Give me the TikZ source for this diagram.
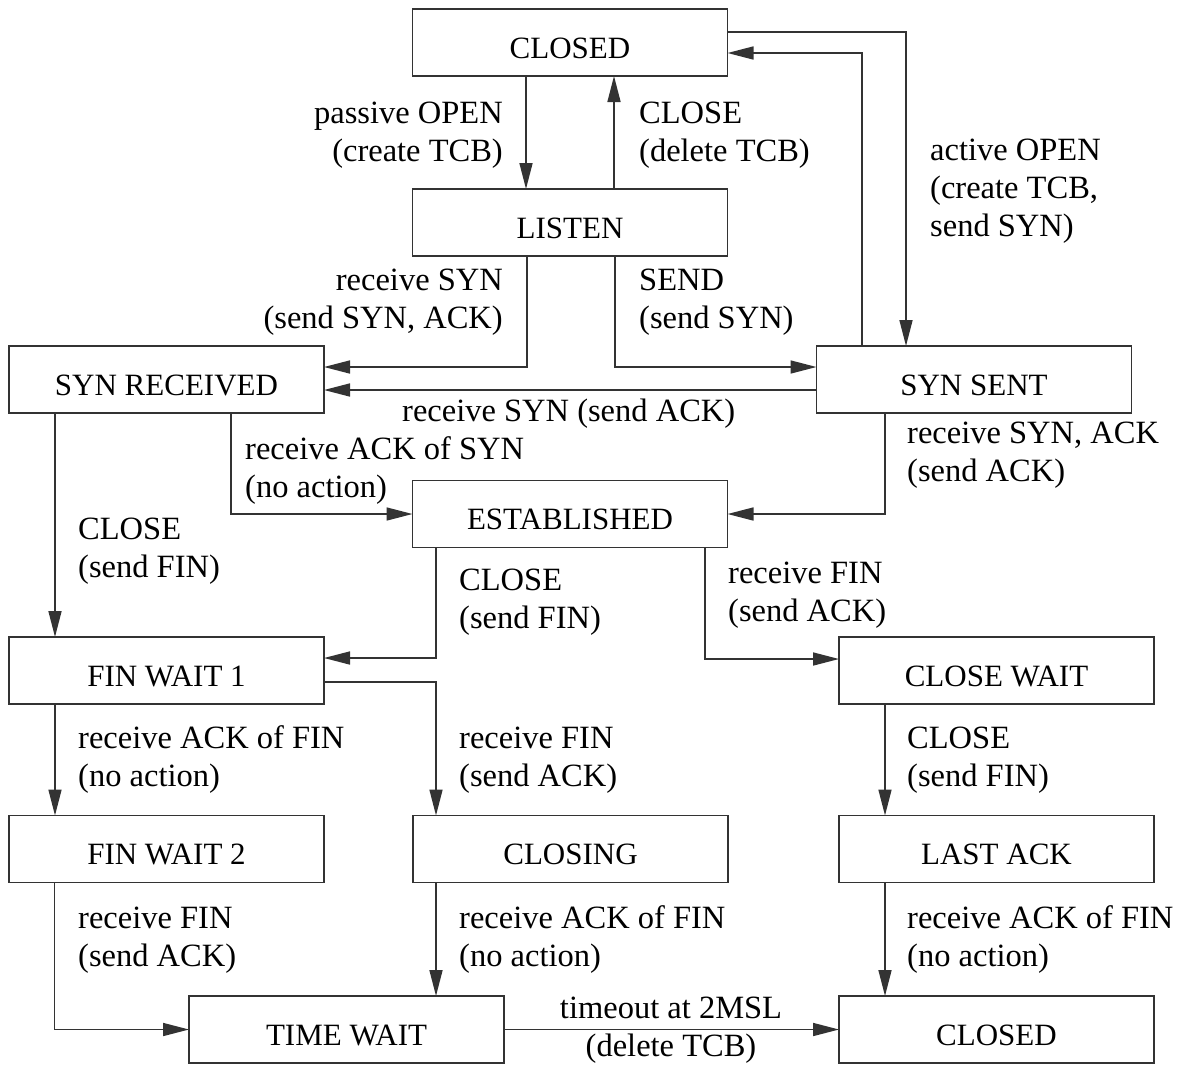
\documentclass[tikz,border=0pt]{standalone}
\usepackage{fontspec}
\setmainfont{Liberation Serif}
\usepackage{tikz}
\usetikzlibrary{positioning,arrows.meta}

\begin{document}
\begin{tikzpicture}[
  x=1pt, y=-1pt,
  st/.style={draw=black!80, line width=1.6pt, minimum width=315pt, minimum height=67pt,
    inner sep=0pt, outer sep=0pt, text height=31pt, text depth=0pt,
    font=\fontsize{31}{38}\selectfont, text centered},
  lbl/.style={inner sep=0pt, align=left, font=\fontsize{32.5}{38}\selectfont},
  arr/.style={-{Triangle[length=26pt, width=13pt]}, line width=1.6pt, draw=black!80}
]
\useasboundingbox (0,0) rectangle (1177,1066);

% states
\node[st] (closed) at (570,42.5) {CLOSED};
\node[st, below=113pt of closed] (listen) {LISTEN};
\node[st] (synrcvd) at (166.5,379.5) {SYN RECEIVED};
\node[st] (synsent) at (974,379.5) {SYN SENT};
\node[st] (estab) at (570,514) {ESTABLISHED};
\node[st] (finwait1) at (166.5,670.5) {FIN WAIT 1};
\node[st] (closewait) at (996.5,670.5) {CLOSE WAIT};
\node[st, below=111.5pt of finwait1] (finwait2) {FIN WAIT 2};
\node[st] (closing) at (570.5,849) {CLOSING};
\node[st, below=111.5pt of closewait] (lastack) {LAST ACK};
\node[st] (timewait) at (346.5,1029.5) {TIME WAIT};
\node[st, below=113.5pt of lastack] (closed2) {CLOSED};

% transitions
\draw[arr] ([xshift=-44pt]closed.south) -- ([xshift=-44pt]listen.north);
\draw[arr] ([xshift=44pt]listen.north) -- ([xshift=44pt]closed.south);
\draw[arr] ([yshift=10.5pt]closed.east) -| ([xshift=-68pt]synsent.north);
\draw[arr] ([xshift=-112pt]synsent.north) |- ([yshift=-10.5pt]closed.east);
\draw[arr] ([xshift=-43pt]listen.south) |- ([yshift=12.5pt]synrcvd.east);
\draw[arr] ([xshift=45pt]listen.south) |- ([yshift=12.5pt]synsent.west);
\draw[arr] ([yshift=-10.5pt]synsent.west) -- ([yshift=-10.5pt]synrcvd.east);
\draw[arr] ([xshift=64.5pt]synrcvd.south) |- (estab.west);
\draw[arr] ([xshift=-89pt]synsent.south) |- (estab.east);
\draw[arr] ([xshift=-111.5pt]synrcvd.south) -- ([xshift=-111.5pt]finwait1.north);
\draw[arr] ([xshift=-134pt]estab.south) |- ([yshift=12.5pt]finwait1.east);
\draw[arr] ([xshift=135pt]estab.south) |- ([yshift=11.5pt]closewait.west);
\draw[arr] ([yshift=-11.5pt]finwait1.east) -| ([xshift=-134.5pt]closing.north);
\draw[arr] ([xshift=-111.5pt]finwait1.south) -- ([xshift=-111.5pt]finwait2.north);
\draw[arr] ([xshift=-111.5pt]closewait.south) -- ([xshift=-111.5pt]lastack.north);
\draw[arr] ([xshift=-112pt]finwait2.south) |- (timewait.west);
\draw[arr] ([xshift=-134.5pt]closing.south) -- ([xshift=89.5pt]timewait.north);
\draw[arr] ([xshift=-111.5pt]lastack.south) -- ([xshift=-111.5pt]closed2.north);
\draw[arr] (timewait.east) -- (closed2.west);

% labels (base = baseline of the last line)
\node[lbl, align=right, anchor=base east] (lpassive) at (503,161) {passive OPEN\\(create TCB)};
\node[lbl, anchor=base west] (lclose) at (639,161) {CLOSE\\(delete TCB)};
\node[lbl, anchor=base west] (lactive) at (930,236) {active OPEN\\(create TCB,\\send SYN)};
\node[lbl, align=right, anchor=base east] (lrcvsyn) at (503,328) {receive SYN\\(send SYN, ACK)};
\node[lbl, anchor=base west] (lsend) at (639,328) {SEND\\(send SYN)};
\node[lbl, anchor=base west] (lsimult) at (402,421) {receive SYN (send ACK)};
\node[lbl, anchor=base west] (lacksyn) at (245,497) {receive ACK of SYN\\(no action)};
\node[lbl, anchor=base west] (lsynack) at (907,481) {receive SYN, ACK\\(send ACK)};
\node[lbl, anchor=base west] (lclose1) at (78,577) {CLOSE\\(send FIN)};
\node[lbl, anchor=base west] (lclose2) at (459,628) {CLOSE\\(send FIN)};
\node[lbl, anchor=base west] (lfin1) at (728,621) {receive FIN\\(send ACK)};
\node[lbl, anchor=base west] (lackfin1) at (78,786) {receive ACK of FIN\\(no action)};
\node[lbl, anchor=base west] (lfin2) at (459,786) {receive FIN\\(send ACK)};
\node[lbl, anchor=base west] (lclose3) at (907,786) {CLOSE\\(send FIN)};
\node[lbl, anchor=base west] (lfin3) at (78,966) {receive FIN\\(send ACK)};
\node[lbl, anchor=base west] (lackfin2) at (459,966) {receive ACK of FIN\\(no action)};
\node[lbl, anchor=base west] (lackfin3) at (907,966) {receive ACK of FIN\\(no action)};
\node[lbl, align=center, anchor=base] (ltimeout) at (671,1056) {timeout at 2MSL\\(delete TCB)};
\end{tikzpicture}
\end{document}
